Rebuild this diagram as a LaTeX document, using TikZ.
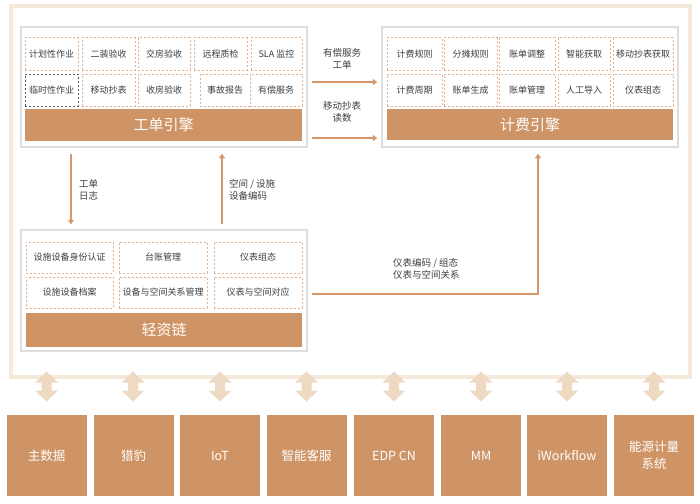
\documentclass[tikz,border=0pt]{standalone}
\usepackage{fontspec}
\setmainfont{Noto Sans CJK SC}
\usetikzlibrary{arrows.meta,calc}
\definecolor{barc}{HTML}{CF9466}
\definecolor{dotc}{HTML}{E6B18A}
\definecolor{framec}{HTML}{F5E9DC}
\definecolor{boxgray}{HTML}{DEDEDE}
\definecolor{txt}{HTML}{3E3E3E}
\definecolor{darkdot}{HTML}{5A5A5A}
\definecolor{arrc}{HTML}{D8976B}
\definecolor{dblc}{HTML}{EED9C3}
\begin{document}
\begin{tikzpicture}[x=1pt,y=-1pt,
  cell/.style={draw=dotc, line width=1pt, dash pattern=on 1.8pt off 2.2pt, inner sep=0pt,
    font=\fontsize{9}{10}\selectfont, text=txt},
  rowa/.style={cell, minimum height=32pt},
  rowb/.style={cell, minimum height=31pt},
  darkcell/.style={draw=darkdot},
  panel/.style={draw=boxgray, line width=1.5pt, fill=white, inner sep=0pt},
  bar/.style={fill=barc, inner sep=0pt, text=white, font=\fontsize{15}{16}\selectfont},
  sysbox/.style={fill=barc, inner sep=0pt, minimum width=80pt, minimum height=81pt,
    text=white, align=center, font=\fontsize{12.5}{17}\selectfont},
  lbl/.style={inner sep=0pt, text=txt, font=\fontsize{9.5}{12}\selectfont},
  arr/.style={draw=arrc, line width=1.1pt, -{Triangle[width=6pt,length=4.5pt]}}]
\useasboundingbox (0,0) rectangle (700,503);
% outer frame
\draw[framec, line width=3.5pt] (11,6) rectangle (690,377);
% panels
\node[panel, minimum width=286pt, minimum height=120pt] (wo) at (164,87) {};
\node[panel, minimum width=296pt, minimum height=120pt] (bo) at (530,87) {};
\node[panel, minimum width=286pt, minimum height=121pt] (la) at (164,290.5) {};
% work order cells
\node[rowa, minimum width=53pt] (w11) at (51.5,54) {计划性作业};
\node[rowa, minimum width=53pt] (w12) at (108.5,54) {二装验收};
\node[rowa, minimum width=52pt] (w13) at (164,54) {交房验收};
\node[rowa, minimum width=53pt] (w14) at (220.5,54) {远程质检};
\node[rowa, minimum width=51pt] (w15) at (276.5,54) {SLA 监控};
\node[rowa, darkcell, minimum width=53pt] (w21) at (51.5,90) {临时性作业};
\node[rowa, minimum width=53pt] (w22) at (108.5,90) {移动抄表};
\node[rowa, minimum width=52pt] (w23) at (164,90) {收房验收};
\node[rowa, minimum width=50pt] (w24) at (225,90) {事故报告};
\node[rowa, minimum width=52pt] (w25) at (276,90) {有偿服务};
\node[bar, minimum width=277pt, minimum height=32pt] (wbar) at (163.5,125) {工单引擎};
% billing cells
\node[rowa, minimum width=55pt] (b11) at (414.5,54) {计费规则};
\node[rowa, minimum width=53pt] (b12) at (470.5,54) {分摊规则};
\node[rowa, minimum width=56pt] (b13) at (527,54) {账单调整};
\node[rowa, minimum width=52pt] (b14) at (584,54) {智能获取};
\node[rowa, minimum width=60pt] (b15) at (643,54) {移动抄表获取};
\node[rowa, minimum width=55pt] (b21) at (414.5,90) {计费周期};
\node[rowa, minimum width=53pt] (b22) at (470.5,90) {账单生成};
\node[rowa, minimum width=56pt] (b23) at (527,90) {账单管理};
\node[rowa, minimum width=52pt] (b24) at (584,90) {人工导入};
\node[rowa, minimum width=60pt] (b25) at (643,90) {仪表组态};
\node[bar, minimum width=286pt, minimum height=31pt] (bbar) at (530,124.5) {计费引擎};
% light asset cells
\node[rowb, minimum width=87pt] (l11) at (69.5,257.5) {设施设备身份认证};
\node[rowb, minimum width=88pt] (l12) at (163,257.5) {台账管理};
\node[rowb, minimum width=88pt] (l13) at (258,257.5) {仪表组态};
\node[rowb, minimum width=87pt] (l21) at (69.5,292.5) {设施设备档案};
\node[rowb, minimum width=88pt] (l22) at (163,292.5) {设备与空间关系管理};
\node[rowb, minimum width=88pt] (l23) at (258,292.5) {仪表与空间对应};
\node[bar, minimum width=276pt, minimum height=34pt] (lbar) at (164,330) {轻资链};
% connectors
\coordinate (r1) at (0,82);
\coordinate (r2) at (0,138);
\coordinate (r3) at (0,294);
\coordinate (cx1) at (71,0);
\coordinate (cx2) at (222,0);
\coordinate (cx3) at (538,0);
\draw[arr, shorten <=4pt, shorten >=4pt] (wo.east |- r1) -- (bo.west |- r1);
\draw[arr, shorten <=4pt, shorten >=4pt] (wo.east |- r2) -- (bo.west |- r2);
\draw[arr, shorten <=6pt, shorten >=5pt] (wo.south -| cx1) -- (la.north -| cx1);
\draw[arr, shorten <=5pt, shorten >=6pt] (la.north -| cx2) -- (wo.south -| cx2);
\draw[arr, shorten <=4pt, shorten >=6pt] (la.east |- r3) -| (bo.south -| cx3);
% labels
\node[lbl, align=center] (t1) at (342,59) {有偿服务\\工单};
\node[lbl, align=center] (t2) at (342,112) {移动抄表\\读数};
\node[lbl, align=left, anchor=west] (t3) at (79,190) {工单\\日志};
\node[lbl, align=left, anchor=west] (t4) at (229,190) {空间 / 设施\\设备编码};
\node[lbl, align=left, anchor=west] (t5) at (393,268.5) {仪表编码 / 组态\\仪表与空间关系};
% double arrows
\foreach \x in {46.5,133,220,306.5,394,481,567,654} {
  \fill[dblc] (\x,371.5) -- (\x+11.5,382.5) -- (\x+5,382.5) -- (\x+5,390.5) -- (\x+11.5,390.5) -- (\x,401.5)
    -- (\x-11.5,390.5) -- (\x-5,390.5) -- (\x-5,382.5) -- (\x-11.5,382.5) -- cycle;
}
% systems
\node[sysbox] (s1) at (46.5,455.5) {主数据};
\node[sysbox] (s2) at (133.5,455.5) {猎豹};
\node[sysbox] (s3) at (220,455.5) {IoT};
\node[sysbox] (s4) at (306.5,455.5) {智能客服};
\node[sysbox] (s5) at (394,455.5) {EDP CN};
\node[sysbox] (s6) at (481,455.5) {MM};
\node[sysbox] (s7) at (567,455.5) {iWorkflow};
\node[sysbox] (s8) at (654,455.5) {能源计量\\系统};
\end{tikzpicture}
\end{document}
